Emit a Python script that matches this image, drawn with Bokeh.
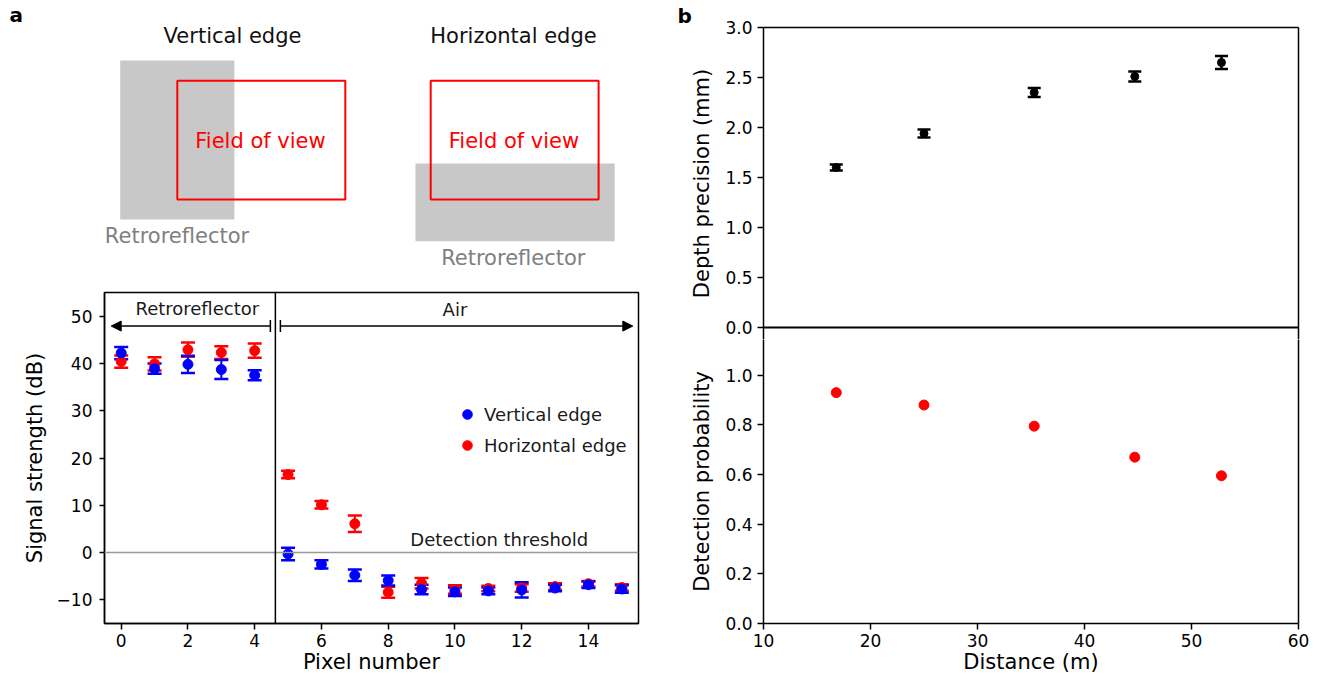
from bokeh.plotting import figure
from bokeh.models import (Range1d, FixedTicker, CustomJSTickFormatter, Whisker, TeeHead, LinearAxis,
                          NormalHead, Arrow, Label, Span, Legend, LegendItem, ColumnDataSource)
from bokeh.layouts import row, column
from bokeh.embed import file_html
from bokeh.resources import INLINE
from bokeh.core.properties import value

# ---------------- data ----------------
pixels = list(range(16))
vert_mean = [42.2, 38.9, 39.8, 38.7, 37.5, -0.3, -2.5, -4.8, -5.9, -7.8, -8.3, -8.1, -7.9, -7.5, -6.8, -7.7]
vert_err = [1.3, 1.1, 1.8, 2.0, 1.05, 1.3, 0.85, 1.2, 1.05, 1.0, 0.9, 0.7, 1.6, 0.7, 0.7, 0.8]
horz_mean = [40.4, 39.9, 42.9, 42.3, 42.7, 16.5, 10.1, 6.1, -8.4, -6.5, -7.8, -7.6, -7.5, -7.2, -6.6, -7.4]
horz_err = [1.3, 1.4, 1.5, 1.35, 1.5, 0.8, 0.78, 1.75, 1.15, 1.1, 0.9, 0.6, 0.8, 0.7, 0.6, 0.7]
pixel_ticks = [0, 2, 4, 6, 8, 10, 12, 14]
signal_ticks = [-10, 0, 10, 20, 30, 40, 50]

distance = [16.8, 25.0, 35.3, 44.7, 52.8]
depth_prec = [1.60, 1.94, 2.35, 2.51, 2.65]
depth_err = [0.03, 0.04, 0.045, 0.05, 0.065]
det_prob = [0.93, 0.88, 0.795, 0.67, 0.595]
distance_ticks = [10, 20, 30, 40, 50, 60]
depth_ticks = [0.0, 0.5, 1.0, 1.5, 2.0, 2.5, 3.0]
prob_ticks = [0.0, 0.2, 0.4, 0.6, 0.8, 1.0]

# schematic (page pixel coordinates): left, right, top, bottom
gray_left = [119.7, 233.9, 60, 219]
red_left = [176.8, 344.8, 80.3, 199]
gray_right = [415, 614.2, 163, 240.7]
red_right = [430.2, 598.1, 80.3, 199]
schem_text = ["Vertical edge", "Horizontal edge", "Field of view", "Field of view",
              "Retroreflector", "Retroreflector"]
schem_x = [232, 513, 260, 513.5, 176.5, 512.8]
schem_y = [35, 35, 140, 140, 235, 257]

FONT = "DejaVu Sans"
BLUE = "#0000ff"
RED = "#ff0000"


def style_axis(ax, tick_out, standoff, label_standoff):
    ax.axis_line_width = 1.5
    ax.axis_line_color = "black"
    ax.major_tick_line_width = 1.5
    ax.major_tick_line_color = "black"
    ax.major_tick_out = tick_out
    ax.major_tick_in = 0
    ax.minor_tick_line_color = None
    ax.major_label_text_font = FONT
    ax.major_label_text_font_size = "17px"
    ax.major_label_text_color = "black"
    ax.major_label_standoff = standoff
    ax.axis_label_text_font = FONT
    ax.axis_label_text_font_size = "21px"
    ax.axis_label_text_font_style = "normal"
    ax.axis_label_text_color = "black"
    ax.axis_label_standoff = label_standoff


def spine(loc, fig):
    ax = LinearAxis(ticker=FixedTicker(ticks=[]), major_tick_out=0, major_tick_in=0,
                    minor_tick_line_color=None, axis_line_width=1.5, axis_line_color="black",
                    major_label_text_font_size="0px")
    fig.add_layout(ax, loc)


def bold_title(fig, text, offset):
    fig.title.text = text
    fig.title.align = "left"
    fig.title.offset = offset
    fig.title.standoff = 0
    fig.title.text_font = FONT
    fig.title.text_font_size = "20px"
    fig.title.text_font_style = "bold"
    fig.title.text_color = "black"


# ---------------- schematic figure ----------------
diag = figure(width=668, height=282, x_range=Range1d(104, 638), y_range=Range1d(282, 26),
              toolbar_location=None, output_backend="svg",
              min_border_left=104, min_border_right=30, min_border_top=26, min_border_bottom=0,
              x_axis_location=None, y_axis_location=None)
diag.grid.visible = False
diag.outline_line_color = None
bold_title(diag, "a", -95)
for g in (gray_left, gray_right):
    diag.quad(left=g[0], right=g[1], top=g[2], bottom=g[3], fill_color="#c8c8c8", line_color=None)
for r in (red_left, red_right):
    diag.quad(left=r[0], right=r[1], top=r[2], bottom=r[3], fill_alpha=0, line_color=RED, line_width=2)
dsrc = ColumnDataSource(dict(x=schem_x, y=schem_y, t=schem_text,
                             c=["#111111", "#111111", RED, RED, "#808080", "#808080"]))
diag.text(x="x", y="y", text="t", text_color="c", source=dsrc, text_font=value(FONT),
          text_font_size="21px", text_align="center", text_baseline="middle")

# ---------------- signal strength figure ----------------
p1 = figure(width=668, height=397, x_range=Range1d(-0.5, 15.5), y_range=Range1d(-15, 55),
            toolbar_location=None, output_backend="svg",
            min_border_left=104, min_border_right=30, min_border_top=10, min_border_bottom=56)
p1.grid.visible = False
p1.outline_line_color = "black"
p1.outline_line_width = 1.5

style_axis(p1.xaxis[0], 6, 4, 0)
style_axis(p1.yaxis[0], 5, 7, 7)
p1.xaxis.ticker = FixedTicker(ticks=pixel_ticks)
p1.yaxis.ticker = FixedTicker(ticks=signal_ticks)
p1.yaxis.formatter = CustomJSTickFormatter(code="return (tick < 0 ? '\u2212' : '') + Math.abs(tick).toFixed(0);")
p1.xaxis.axis_label = "Pixel number"
p1.yaxis.axis_label = "Signal strength (dB)"

p1.add_layout(Span(location=0, dimension="width", line_color="#999999", line_width=1.5))
p1.add_layout(Span(location=4.62, dimension="height", line_color="black", line_width=1.5))

src_h = ColumnDataSource(dict(x=pixels, y=horz_mean,
                              lo=[m - e for m, e in zip(horz_mean, horz_err)],
                              hi=[m + e for m, e in zip(horz_mean, horz_err)]))
src_v = ColumnDataSource(dict(x=pixels, y=vert_mean,
                              lo=[m - e for m, e in zip(vert_mean, vert_err)],
                              hi=[m + e for m, e in zip(vert_mean, vert_err)]))
for src, col in ((src_h, RED), (src_v, BLUE)):
    p1.add_layout(Whisker(source=src, base="x", upper="hi", lower="lo", dimension="height",
                          line_color=col, line_width=2,
                          upper_head=TeeHead(size=14, line_color=col, line_width=2.5),
                          lower_head=TeeHead(size=14, line_color=col, line_width=2.5)))
rr = p1.scatter("x", "y", source=src_h, size=10, color=RED)
rb = p1.scatter("x", "y", source=src_v, size=10, color=BLUE)

legend = Legend(items=[LegendItem(label="Vertical edge", renderers=[rb]),
                       LegendItem(label="Horizontal edge", renderers=[rr])],
                location=(351, 166), glyph_width=24, glyph_height=24, label_height=24,
                label_standoff=5, spacing=7, padding=0, margin=0,
                background_fill_alpha=0, border_line_color=None,
                label_text_font=FONT, label_text_font_size="18px", label_text_color="#1a1a1a")
p1.add_layout(legend)

p1.add_layout(Arrow(x_start=4.47, y_start=47.9, x_end=-0.3, y_end=47.9, line_width=1.5,
                    start=TeeHead(size=12, line_width=1.5),
                    end=NormalHead(size=10, fill_color="black", line_width=1)))
p1.add_layout(Arrow(x_start=4.77, y_start=47.9, x_end=15.33, y_end=47.9, line_width=1.5,
                    start=TeeHead(size=12, line_width=1.5),
                    end=NormalHead(size=10, fill_color="black", line_width=1)))
for x, y, t in ((2.28, 51.6, "Retroreflector"), (10.0, 51.4, "Air"), (11.33, 2.8, "Detection threshold")):
    p1.add_layout(Label(x=x, y=y, text=t, text_font=FONT, text_font_size="18px",
                        text_align="center", text_baseline="middle", text_color="#1a1a1a"))

# ---------------- depth precision (upper right) ----------------
p2a = figure(width=652, height=339, x_range=Range1d(10, 60), y_range=Range1d(-0.12, 3.0),
             toolbar_location=None, output_backend="svg", x_axis_location=None,
             min_border_left=95, min_border_right=22, min_border_top=27, min_border_bottom=0)
p2a.grid.visible = False
p2a.outline_line_color = None
bold_title(p2a, "b", -86)
style_axis(p2a.yaxis[0], 6, 5, 8)
p2a.yaxis.ticker = FixedTicker(ticks=depth_ticks)
p2a.yaxis.formatter = CustomJSTickFormatter(code="return tick.toFixed(1);")
p2a.yaxis.axis_label = "Depth precision (mm)"
spine("above", p2a)
spine("right", p2a)
p2a.add_layout(Span(location=0, dimension="width", line_color="black", line_width=2))

src_d = ColumnDataSource(dict(x=distance, y=depth_prec,
                              lo=[m - e for m, e in zip(depth_prec, depth_err)],
                              hi=[m + e for m, e in zip(depth_prec, depth_err)]))
p2a.add_layout(Whisker(source=src_d, base="x", upper="hi", lower="lo", dimension="height",
                       line_color="black", line_width=2.5,
                       upper_head=TeeHead(size=13, line_color="black", line_width=2.5),
                       lower_head=TeeHead(size=13, line_color="black", line_width=2.5)))
p2a.scatter("x", "y", source=src_d, size=8, color="black")

# ---------------- detection probability (lower right) ----------------
p2b = figure(width=652, height=340, x_range=Range1d(10, 60), y_range=Range1d(0, 1.144),
             toolbar_location=None, output_backend="svg",
             min_border_left=95, min_border_right=22, min_border_top=0, min_border_bottom=56)
p2b.grid.visible = False
p2b.outline_line_color = None
style_axis(p2b.xaxis[0], 6, 4, 0)
style_axis(p2b.yaxis[0], 6, 5, 8)
p2b.xaxis.ticker = FixedTicker(ticks=distance_ticks)
p2b.yaxis.ticker = FixedTicker(ticks=prob_ticks)
p2b.yaxis.formatter = CustomJSTickFormatter(code="return tick.toFixed(1);")
p2b.xaxis.axis_label = "Distance (m)"
p2b.yaxis.axis_label = "Detection probability"
spine("right", p2b)
p2b.scatter(distance, det_prob, size=10, color=RED)

layout = row(column(diag, p1), column(p2a, p2b))
open("out.html", "w").write(file_html(layout, INLINE))
